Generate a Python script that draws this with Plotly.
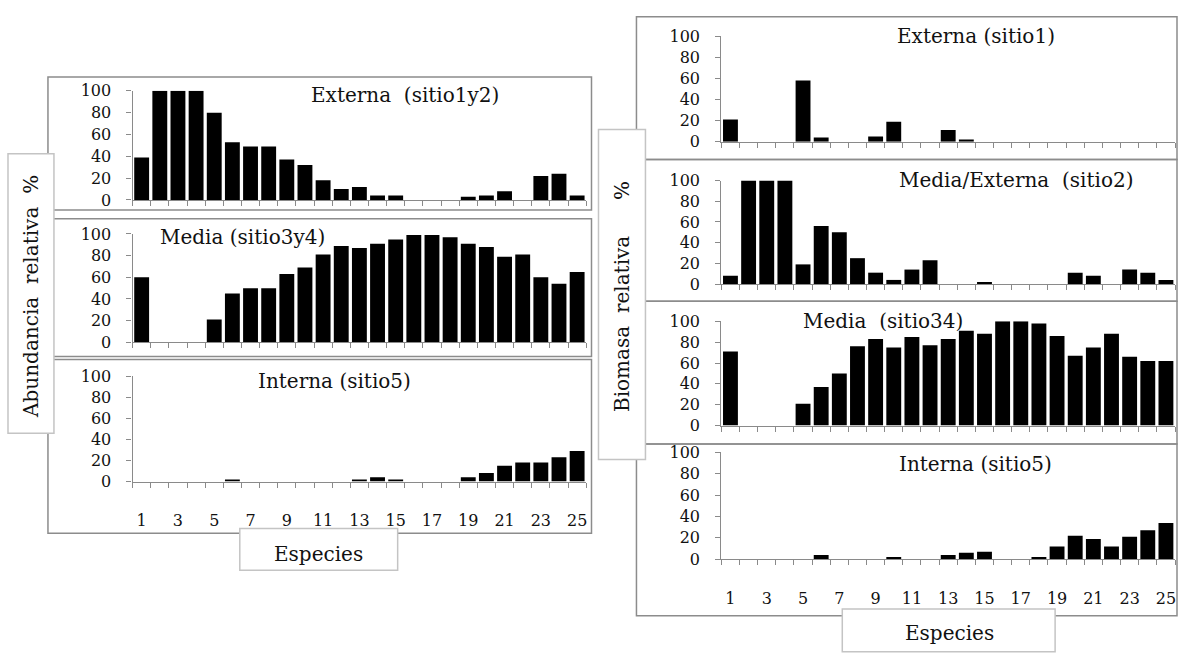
import plotly.graph_objects as go

W, H = 1181, 653

species = list(range(1, 26))
tick_vals = list(range(1, 26, 2))
tick_labels = [str(v) for v in tick_vals]
y_ticks = [0, 20, 40, 60, 80, 100]

# Abundancia relativa (%)
abund_externa = [39, 100, 100, 100, 80, 53, 49, 49, 37, 32, 18, 10, 12, 4, 4, 0, 0, 0, 3, 4, 8, 0, 22, 24, 4]
abund_media = [60, 0, 0, 0, 21, 45, 50, 50, 63, 69, 81, 89, 87, 91, 95, 99, 99, 97, 91, 88, 79, 81, 60, 54, 65]
abund_interna = [0, 0, 0, 0, 0, 2, 0, 0, 0, 0, 0, 0, 2, 4, 2, 0, 0, 0, 4, 8, 15, 18, 18, 23, 29]

# Biomasa relativa (%)
biom_externa = [21, 0, 0, 0, 58, 4, 0, 0, 5, 19, 0, 0, 11, 2, 0, 0, 0, 0, 0, 0, 0, 0, 0, 0, 0]
biom_media_externa = [8, 100, 100, 100, 19, 56, 50, 25, 11, 4, 14, 23, 0, 0, 2, 0, 0, 0, 0, 11, 8, 0, 14, 11, 4]
biom_media = [71, 0, 0, 0, 21, 37, 50, 76, 83, 75, 85, 77, 83, 91, 88, 100, 100, 98, 86, 67, 75, 88, 66, 62, 62]
biom_interna = [0, 0, 0, 0, 0, 4, 0, 0, 0, 2, 0, 0, 4, 6, 7, 0, 0, 2, 12, 22, 19, 12, 21, 27, 34]

titles_abund = ["Externa\u00a0\u00a0(sitio1y2)", "Media (sitio3y4)", "Interna (sitio5)"]
titles_biom = ["Externa (sitio1)", "Media/Externa\u00a0\u00a0(sitio2)", "Media\u00a0\u00a0(sitio34)", "Interna (sitio5)"]

FONT = "DejaVu Serif"
AXIS_GRAY = "#8a8a8a"
FRAME_GRAY = "#8c8c8c"
BOX_GRAY = "#c4c4c4"


def px(x):
    return x / W


def py(y):
    return 1 - y / H


left_x = (132.7, 586.7)
right_x = (722.0, 1176.0)
panels = [
    (abund_externa, titles_abund[0], left_x, (84.3, 196.7), (405, 89), False),
    (abund_media, titles_abund[1], left_x, (231.7, 343.3), (243, 235), False),
    (abund_interna, titles_abund[2], left_x, (378.0, 486.7), (335, 383), True),
    (biom_externa, titles_biom[0], right_x, (28.0, 136.7), (977, 28), False),
    (biom_media_externa, titles_biom[1], right_x, (176.7, 283.3), (1017, 176), False),
    (biom_media, titles_biom[2], right_x, (321.7, 429.0), (884, 321), False),
    (biom_interna, titles_biom[3], right_x, (456.7, 566.7), (976, 469), True),
]

fig = go.Figure()
annotations = []
for i, (vals, title, xd, yd, tpos, show_lbl) in enumerate(panels, start=1):
    xa = "x" if i == 1 else f"x{i}"
    ya = "y" if i == 1 else f"y{i}"
    fig.add_trace(go.Bar(x=species, y=vals, xaxis=xa, yaxis=ya,
                         marker=dict(color="#000000", line=dict(width=0)),
                         width=0.82, showlegend=False, hoverinfo="x+y"))
    xkey = "xaxis" if i == 1 else f"xaxis{i}"
    ykey = "yaxis" if i == 1 else f"yaxis{i}"
    fig.layout[xkey] = dict(
        domain=[px(xd[0]), px(xd[1])], range=[0.5, 25.5], anchor=ya,
        showline=True, linecolor=AXIS_GRAY, linewidth=1.3,
        showgrid=False, zeroline=False,
        tickmode="array", tickvals=tick_vals,
        ticktext=tick_labels if show_lbl else [""] * len(tick_vals),
        ticks="", showticklabels=show_lbl,
        ticklabelstandoff=24,
        tickfont=dict(family=FONT, size=16, color="#111111"),
        minor=dict(tickmode="linear", tick0=0.5, dtick=1, ticks="outside",
                   ticklen=5, tickwidth=1.2, tickcolor=AXIS_GRAY, showgrid=False),
        fixedrange=True,
    )
    fig.layout[ykey] = dict(
        domain=[py(yd[1]), py(yd[0])], range=[0, 100], anchor=xa,
        showline=True, linecolor=AXIS_GRAY, linewidth=1.3,
        showgrid=False, zeroline=False,
        tickmode="array", tickvals=y_ticks, ticks="outside", ticklen=5,
        tickwidth=1.2, tickcolor=AXIS_GRAY,
        ticklabelstandoff=12,
        tickfont=dict(family=FONT, size=16, color="#111111"),
        fixedrange=True,
    )
    annotations.append(dict(text=title, x=px(tpos[0]), y=py(tpos[1]), xref="paper", yref="paper",
                            xanchor="center", yanchor="middle", showarrow=False,
                            font=dict(family=FONT, size=20, color="#111111")))

shapes = []
frames = [
    (48, 70, 592, 207), (48, 216, 592, 358), (48, 361, 592, 540),
    (637, 8, 1178, 155), (637, 155, 1178, 301), (637, 301, 1178, 448), (637, 448, 1178, 625),
]
for x0, y0, x1, y1 in frames:
    shapes.append(dict(type="rect", xref="paper", yref="paper", x0=px(x0), x1=px(x1), y0=py(y1), y1=py(y0),
                       line=dict(color=FRAME_GRAY, width=1.5), fillcolor="rgba(0,0,0,0)", layer="below"))
boxes = [
    (8, 149, 54, 437), (599, 124, 646, 464),
    (240, 535, 398, 578), (843, 618, 1056, 662),
]
for x0, y0, x1, y1 in boxes:
    shapes.append(dict(type="rect", xref="paper", yref="paper", x0=px(x0), x1=px(x1), y0=py(y1), y1=py(y0),
                       line=dict(color=BOX_GRAY, width=1.5), fillcolor="#ffffff", layer="below"))

label_font = dict(family=FONT, size=20, color="#111111")
texts = [
    ("Abundancia\u00a0\u00a0relativa", 31, 312, -90),
    ("%", 31, 180, -90),
    ("Biomasa\u00a0\u00a0relativa", 622, 324, -90),
    ("%", 622, 187, -90),
    ("Especies", 319, 561, 0),
    ("Especies", 950, 643, 0),
]
for t, x, y, ang in texts:
    annotations.append(dict(text=t, x=px(x), y=py(y), xref="paper", yref="paper",
                            xanchor="center", yanchor="middle", showarrow=False,
                            textangle=ang, font=label_font))

fig.update_layout(
    width=W, height=H, margin=dict(l=0, r=0, t=0, b=0),
    paper_bgcolor="#ffffff", plot_bgcolor="rgba(0,0,0,0)",
    bargap=0.18, shapes=shapes, annotations=annotations,
    showlegend=False,
)

fig.write_html("out.html", include_plotlyjs=True, config={"displayModeBar": False},
               post_script="document.body.style.margin='0';document.body.style.overflow='hidden';")
